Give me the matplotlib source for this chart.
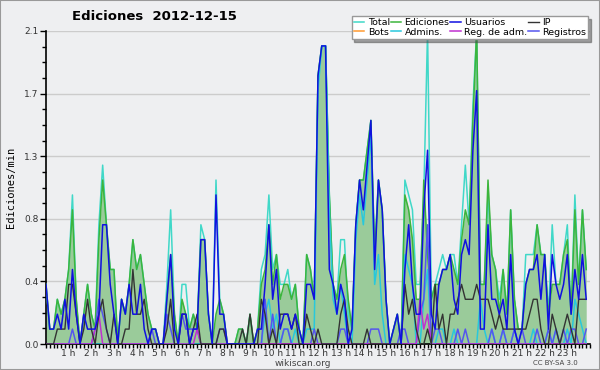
import numpy as np
import matplotlib
matplotlib.use("Agg")
import matplotlib.pyplot as plt
from matplotlib.patches import Rectangle

# edits per 10-minute bin (divided by 10 -> edits/min), 144 bins over the day
total = [4,1,1,3,2,3,5,10,3,0, 2,4,2,1,8,12,8,5,5,0, 3,2,4,7,5,6,4,2,1,1,
         0,0,4,9,2,0,4,4,1,2, 1,8,7,2,0,11,3,2,0,0, 0,1,1,0,2,0,1,5,
         6,10,5,6,4,4,5,3,4,1, 0,6,5,3,18,20,20,10,4,3, 7,7,2,1,8,11,11,13,15,
         6,11,9,3,0,1,2,0,11,10, 9,4,4,10,21,3,4,5,6,5, 6,6,4,8,12,8,16,21,
         4,4,10,6,5,3,5,2,9,3, 1,1,6,6,6,8,6,6,2,8, 4,4,6,8,2,10,4,9,5]
ediciones = [4,1,1,3,2,3,5,9,3,0, 2,4,2,1,7,11,8,5,5,0, 3,2,4,7,5,6,4,2,1,1,
             0,0,3,6,2,0,3,2,1,2, 1,7,7,2,0,2,3,2,0,0, 0,1,1,0,2,0,1,4,
             5,8,4,6,3,4,4,3,4,1, 0,6,5,3,18,20,20,10,4,3, 5,6,3,1,8,11,11,13,15,
             6,11,9,3,0,1,2,0,10,9, 7,3,3,11,6,3,4,4,5,5, 6,5,4,7,9,8,15,21,
             4,4,11,6,5,2,5,2,9,3, 1,1,4,5,5,8,6,6,2,4, 4,4,6,7,2,9,4,9,5]
usuarios = [4,1,1,2,1,3,1,5,2,0, 2,1,1,1,2,8,8,4,2,0, 3,2,4,2,2,4,1,0,1,1,
            0,0,3,6,1,0,2,2,0,1, 1,7,7,2,0,10,2,2,0,0, 0,0,0,0,0,0,1,1,
            4,8,3,5,1,2,2,1,2,1, 0,4,4,3,18,20,20,5,4,2, 4,3,0,1,8,11,9,12,15,
            5,11,9,3,0,1,2,0,5,8, 4,2,2,9,13,2,1,4,5,5, 6,3,2,6,7,6,13,17,
            1,1,8,3,3,2,3,1,6,1, 0,1,4,5,5,6,3,6,1,6, 4,3,4,6,2,5,3,6,3]
ip = [0,0,0,1,1,1,4,4,2,0, 1,3,1,0,2,3,1,0,2,0, 0,1,1,5,2,2,3,1,0,0,
      0,0,1,3,0,0,2,2,0,1, 2,0,0,0,0,0,1,1,0,0, 0,0,1,0,2,0,0,3,
      2,0,1,0,2,2,2,1,2,0, 0,2,1,0,1,0,0,0,0,0, 2,3,1,0,0,0,0,1,0,
      0,0,0,0,0,0,0,0,4,2, 3,1,0,0,1,0,4,1,2,0, 2,2,3,4,3,3,3,4,
      3,3,3,2,1,2,1,1,1,1, 1,1,1,2,3,3,1,0,0,2, 1,0,1,2,1,0,3,3,3]
admins = [0]*30 + [0]*28 + \
         [2,3,1,2,0,1,1,0,1,0, 0,1,1,1,17,20,20,9,3,2, 4,2,0,0,7,10,8,11,14] + \
         [4,6,2,0,0,0,0,0,6,5, 4,0,0,3,5,0,0,1,1,0, 0,1,0,0,0,0,0,0] + \
         [3,1,0,1,0,0,1,0,0,1, 0,0,0,0,1,0,0,0,1,0, 1,0,0,1,0,3,2,1,0]
reg_adm = [0]*13 + [1,2] + [0]*25 + [1] + [0]*58 + [3,1,2] + [0]*42
registros = [0,0,0,0,0,0,0,1,0,0, 0,0,0,1,3,2,1,0,0,0, 0,0,0,0,0,0,0,0,1,0,
             0,0,2,1,0,0,2,1,1,1, 1,0,0,0,0,0,1,1,0,0, 0,0,0,0,0,0,0,0,
             3,0,2,0,0,1,1,0,0,0, 0,0,0,1,0,0,0,0,0,0, 1,1,0,0,0,0,0,0,1,
             1,1,0,0,0,0,0,1,1,0, 0,0,2,3,8,0,1,1,0,0, 0,0,1,0,1,0,0,0,
             0,0,0,1,0,0,1,0,0,1, 0,1,0,0,0,1,0,0,1,0, 1,0,1,0,1,1,0,0,1]

hours = np.arange(144) / 6.0
to_min = lambda a: np.array(a) / 10.0

ytick_vals = [0, 0.42, 0.84, 1.26, 1.68, 2.1]
ytick_labels = ["0.0", "0.4", "0.8", "1.3", "1.7", "2.1"]
xtick_vals = list(range(1, 24))
xtick_labels = [f"{h} h" for h in xtick_vals]

bg = "#eeeff1"
fig = plt.figure(figsize=(6, 3.7), dpi=100, facecolor=bg)
fig.patches.append(Rectangle((0, 0), 1, 1, transform=fig.transFigure,
                             fill=False, edgecolor="#999999", lw=1.5))
ax = fig.add_axes([46/600, 26/370, 544/600, 313/370], facecolor=bg)

ax.fill_between(hours, to_min(ediciones), color="#9acb9a", lw=0, zorder=2)
l_total, = ax.plot(hours, to_min(total), color="#40d8c8", lw=1.1, zorder=3)
l_edic, = ax.plot(hours, to_min(ediciones), color="#3cb53c", lw=1.1, zorder=4)
l_adm, = ax.plot(hours, to_min(admins), color="#28c8dc", lw=1.1, zorder=5)
l_reg, = ax.plot(hours, to_min(registros), color="#5555ee", lw=1.1, zorder=6)
l_regadm, = ax.plot(hours, to_min(reg_adm), color="#c030d0", lw=1.1, zorder=6)
l_ip, = ax.plot(hours, to_min(ip), color="#333333", lw=1.0, zorder=7)
l_usr, = ax.plot(hours, to_min(usuarios), color="#1010e0", lw=1.1, zorder=8)
l_bots, = ax.plot([], [], color="#ff9a30", lw=1.1)

ax.set_xlim(0, 24)
ax.set_ylim(0, 2.1)
for s in ["top", "right"]:
    ax.spines[s].set_visible(False)
ax.spines["left"].set_linewidth(1.2)
ax.spines["bottom"].set_linewidth(1.2)

ax.set_yticks(ytick_vals)
ax.set_yticklabels(ytick_labels)
ax.set_yticks(np.arange(0, 2.11, 0.105), minor=True)
ax.set_xticks(xtick_vals)
ax.set_xticklabels(xtick_labels)
ax.set_xticks(np.arange(0, 24.01, 1/6), minor=True)
ax.tick_params(axis="y", which="major", length=4, width=1, labelsize=6.5,
               labelcolor="#333333", pad=1.5)
ax.tick_params(axis="x", which="major", length=3, width=1, labelsize=6.5,
               labelcolor="#333333", pad=0.5)
ax.tick_params(axis="both", which="minor", length=3, width=1)
ax.yaxis.grid(True, color="#cccccc", lw=1)
ax.set_axisbelow(True)

ax.set_ylabel("Ediciones/min", family="DejaVu Sans Mono", fontsize=7.5, labelpad=6)

fig.text(154/600, 1 - 17/370, "Ediciones  2012-12-15", ha="center", va="center",
         fontsize=9.5, fontweight="bold")
fig.text(303/600, 1 - 363/370, "wikiscan.org", ha="center", va="center",
         fontsize=6.5, color="#444444")
fig.text(555/600, 1 - 363/370, "CC BY-SA 3.0", ha="center", va="center",
         fontsize=5, color="#444444")

handles = [l_total, l_bots, l_edic, l_adm, l_usr, l_regadm, l_ip, l_reg]
labels = ["Total", "Bots", "Ediciones", "Admins.", "Usuarios", "Reg. de adm.",
          "IP", "Registros"]
leg = fig.legend(handles, labels, ncol=4, loc="upper right",
                 bbox_to_anchor=(593/600, 1 - 11/370), fontsize=6.8,
                 handlelength=1.1, handletextpad=0.35, columnspacing=0.1,
                 labelspacing=0.05, borderpad=0.25, fancybox=False, shadow=True,
                 framealpha=1, edgecolor="#999999", facecolor="white")
leg.set_zorder(10)

fig.savefig("out.png", dpi=100, facecolor=bg)
